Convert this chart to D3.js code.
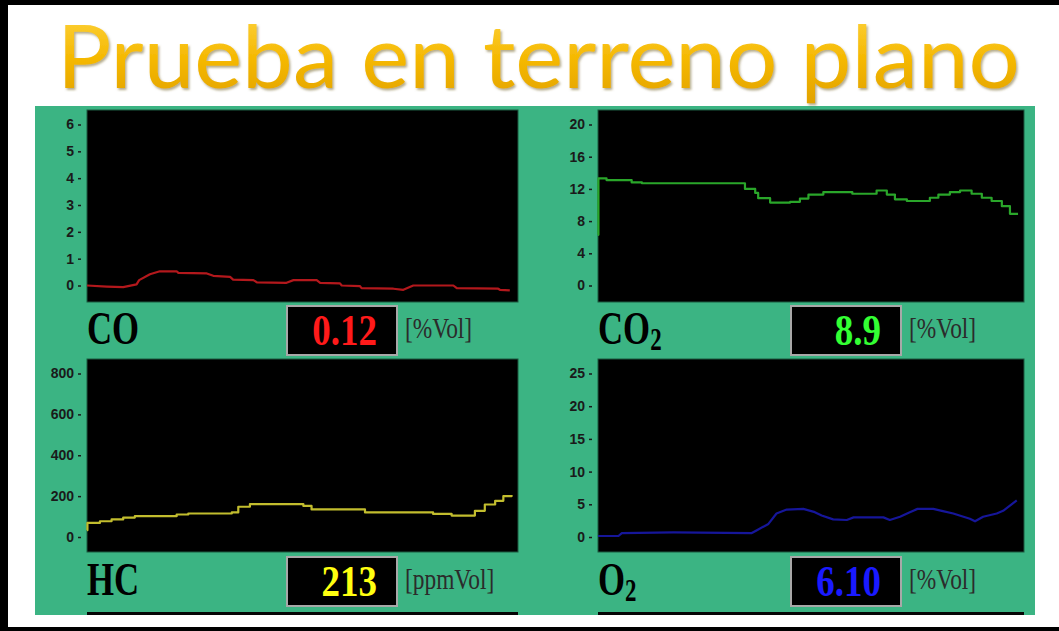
<!DOCTYPE html>
<html>
<head>
<meta charset="utf-8">
<script src="https://cdn.jsdelivr.net/npm/d3@7"></script>
<style>
  html, body { margin: 0; padding: 0; background: #ffffff; }
  svg { display: block; }
</style>
</head>
<body>
<svg id="chart" width="1059" height="631"></svg>
<script>
// ---------------- data ----------------
const title = "Prueba en terreno plano";

const coT = [0, 4.6, 8.4, 11.5, 12.1, 14.6, 16.9, 20.8, 21.2, 27.8, 29.3, 33.2, 33.9, 38.6, 39.4, 46.3, 47.9, 53.3, 54.1, 58.7, 59.1, 63.3, 63.7, 71.1, 73.4, 75.7, 85.0, 85.8, 95.4, 95.8, 98.1];
const coV = [0.0, -0.04, -0.06, 0.04, 0.2, 0.42, 0.53, 0.53, 0.47, 0.45, 0.36, 0.32, 0.22, 0.2, 0.12, 0.1, 0.2, 0.2, 0.1, 0.08, 0.0, -0.02, -0.1, -0.12, -0.16, 0.0, 0.0, -0.1, -0.12, -0.16, -0.18];

const co2T = [0, 0.1, 2.0, 7.9, 10.3, 34.5, 36.9, 37.6, 40.4, 45.1, 47.4, 49.4, 52.9, 59.7, 65.4, 67.8, 69.7, 72.5, 77.9, 79.9, 82.6, 85.0, 87.7, 90.1, 92.4, 94.8, 96.7, 98.6];
const co2V = [6.3, 13.3, 13.1, 12.8, 12.7, 12.0, 11.5, 10.85, 10.3, 10.4, 10.8, 11.3, 11.6, 11.4, 11.8, 11.3, 10.7, 10.5, 10.9, 11.3, 11.6, 11.8, 11.4, 10.9, 10.5, 9.85, 8.9, 8.9];

const hcT = [0, 0.1, 3.0, 5.7, 8.4, 11.1, 20.8, 23.5, 33.6, 35.1, 37.8, 50.2, 52.1, 64.5, 80.3, 84.6, 90.0, 92.3, 94.7, 96.6, 98.5];
const hcV = [33, 69, 77, 86, 95, 102, 110, 115, 120, 148, 161, 152, 135, 120, 113, 105, 128, 159, 177, 200, 205];

const o2T = [0, 4.8, 5.6, 17.7, 36.1, 37.2, 40.0, 41.9, 44.3, 48.2, 50.9, 52.5, 55.2, 58.4, 60.0, 67.0, 68.5, 70.9, 73.2, 75.0, 78.7, 80.7, 83.4, 85.8, 87.3, 88.5, 90.4, 93.6, 95.1, 98.3];
const o2V = [0.15, 0.15, 0.6, 0.7, 0.6, 1.0, 2.0, 3.6, 4.2, 4.3, 3.8, 3.3, 2.7, 2.6, 3.0, 3.0, 2.6, 3.1, 3.8, 4.3, 4.3, 4.0, 3.6, 3.1, 2.8, 2.4, 3.1, 3.6, 4.0, 5.6];

const coTicks  = [0, 1, 2, 3, 4, 5, 6];
const co2Ticks = [0, 4, 8, 12, 16, 20];
const hcTicks  = [0, 200, 400, 600, 800];
const o2Ticks  = [0, 5, 10, 15, 20, 25];

const gasNames  = ["CO", "CO", "HC", "O"];
const gasSubs   = ["", "2", "", "2"];
const readings  = ["0.12", "8.9", "213", "6.10"];
const units     = ["[%Vol]", "[%Vol]", "[ppmVol]", "[%Vol]"];

// ---------------- layout / style ----------------
const colLeft  = [87, 598];
const colRight = [518, 1024];
const rowTop   = [110, 359];
const rowBot   = [302, 552];
const rowZeroY = [285.5, 537];
const rowTopTickY = [124.5, 373.5];

const panels = [
  { t: coT,  v: coV,  ticks: coTicks,  col: 0, row: 0, line: "#b3181c", val: "#ff1a1a", curve: d3.curveLinear },
  { t: co2T, v: co2V, ticks: co2Ticks, col: 1, row: 0, line: "#2aa62a", val: "#33ff33", curve: d3.curveStepAfter },
  { t: hcT,  v: hcV,  ticks: hcTicks,  col: 0, row: 1, line: "#c2bd2e", val: "#ffff10", curve: d3.curveStepAfter },
  { t: o2T,  v: o2V,  ticks: o2Ticks,  col: 1, row: 1, line: "#16169a", val: "#1a1aff", curve: d3.curveLinear }
];

const svg = d3.select("#chart");
const defs = svg.append("defs");
const grad = defs.append("linearGradient").attr("id", "gold").attr("x1", 0).attr("y1", 0).attr("x2", 0).attr("y2", 1);
grad.append("stop").attr("offset", "0%").attr("stop-color", "#ffd84a");
grad.append("stop").attr("offset", "55%").attr("stop-color", "#f5b800");
grad.append("stop").attr("offset", "100%").attr("stop-color", "#e0a000");
const flt = defs.append("filter").attr("id", "shadow").attr("x", "-5%").attr("y", "-10%").attr("width", "110%").attr("height", "130%");
flt.append("feDropShadow").attr("dx", 1.5).attr("dy", 2).attr("stdDeviation", 1.2)
  .attr("flood-color", "#7a6a30").attr("flood-opacity", 0.55);

// frame
svg.append("rect").attr("x", 0).attr("y", 0).attr("width", 1059).attr("height", 631).attr("fill", "#000");
svg.append("rect").attr("x", 8).attr("y", 5).attr("width", 1051).attr("height", 622).attr("fill", "#fff");

// green panel
svg.append("rect").attr("x", 35).attr("y", 106).attr("width", 1000).attr("height", 509).attr("fill", "#3bb483");

// title
svg.append("text")
  .attr("x", 57).attr("y", 88)
  .attr("textLength", 963).attr("lengthAdjust", "spacingAndGlyphs")
  .attr("font-family", "Lato, 'Open Sans', 'DejaVu Sans', sans-serif")
  .attr("font-size", 88)
  .attr("fill", "url(#gold)")
  .attr("filter", "url(#shadow)")
  .text(title);

// partial plots at the bottom
[0, 1].forEach(c => {
  svg.append("rect").attr("x", colLeft[c]).attr("y", 612).attr("width", colRight[c] - colLeft[c]).attr("height", 3).attr("fill", "#050505");
});

panels.forEach((p, i) => {
  const L = colLeft[p.col], R = colRight[p.col], T = rowTop[p.row], B = rowBot[p.row];
  const g = svg.append("g");

  g.append("rect").attr("x", L).attr("y", T).attr("width", R - L).attr("height", B - T)
    .attr("fill", "#000").attr("stroke", "#1d5a40").attr("stroke-width", 1);

  const x = d3.scaleLinear().domain([0, 100]).range([L, R]);
  const maxTick = p.ticks[p.ticks.length - 1];
  const y = d3.scaleLinear().domain([0, maxTick]).range([rowZeroY[p.row], rowTopTickY[p.row]]);

  const axis = d3.axisLeft(y).tickValues(p.ticks).tickSize(3).tickPadding(4).tickFormat(d3.format("d"));
  const ag = g.append("g").attr("transform", `translate(${L - 6},0)`).call(axis);
  ag.select(".domain").remove();
  ag.selectAll(".tick line").attr("stroke", "#1a1a1a").attr("stroke-width", 1.5);
  ag.selectAll(".tick text")
    .attr("fill", "#1a1a1a")
    .attr("font-family", "'Liberation Sans Narrow', 'Arial Narrow', 'Liberation Sans', Arial, sans-serif")
    .attr("font-weight", "bold")
    .attr("font-size", 14);

  const data = p.t.map((t, k) => [t, p.v[k]]);
  const line = d3.line().x(d => x(d[0])).y(d => y(d[1])).curve(p.curve);
  g.append("path").datum(data).attr("d", line)
    .attr("fill", "none").attr("stroke", p.line).attr("stroke-width", 2.2)
    .attr("stroke-linejoin", "round");

  // label row
  const boxX = L + (p.col === 0 ? 200 : 193);
  const boxY = B + (p.row === 0 ? 4 : 5);
  const boxW = 110, boxH = 49;

  const lab = g.append("text")
    .attr("transform", `translate(${L},${boxY + 38}) scale(0.74,1)`)
    .attr("font-family", "'Liberation Serif', 'Times New Roman', serif")
    .attr("font-weight", "bold").attr("font-size", 47).attr("fill", "#000");
  lab.append("tspan").text(gasNames[i]);
  if (gasSubs[i]) {
    lab.append("tspan").attr("font-size", 31).attr("dy", 6).text(gasSubs[i]);
  }

  g.append("rect").attr("x", boxX).attr("y", boxY).attr("width", boxW).attr("height", boxH)
    .attr("fill", "#000").attr("stroke", "#a8a8a8").attr("stroke-width", 2);

  g.append("text")
    .attr("transform", `translate(${boxX + boxW - 20},${boxY + 39}) scale(0.84,1)`)
    .attr("text-anchor", "end")
    .attr("font-family", "'Liberation Serif', 'Times New Roman', serif")
    .attr("font-weight", "bold")
    .attr("font-size", 44).attr("fill", p.val)
    .text(readings[i]);

  g.append("text")
    .attr("transform", `translate(${boxX + 118},${boxY + 32}) scale(0.78,1)`)
    .attr("font-family", "'Liberation Serif', 'Times New Roman', serif")
    .attr("font-size", 30).attr("fill", "#2b2b2b")
    .text(units[i]);
});
</script>
</body>
</html>
